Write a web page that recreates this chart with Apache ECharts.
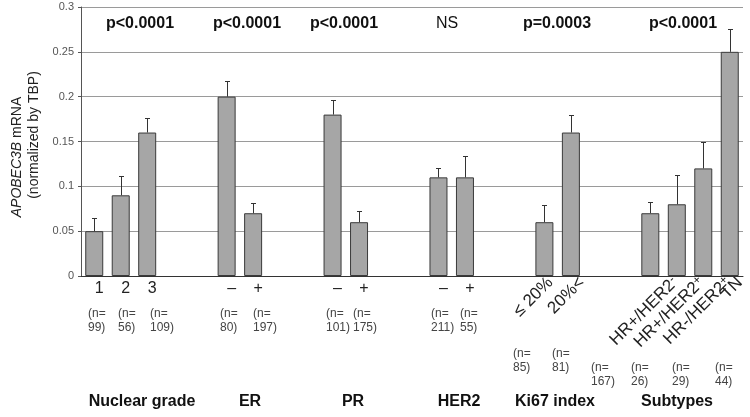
<!DOCTYPE html>
<html><head><meta charset="utf-8">
<script src="https://cdn.jsdelivr.net/npm/echarts@6/dist/echarts.min.js"></script>
<style>html,body{margin:0;padding:0;background:#fff}#c{width:750px;height:417px}</style>
</head><body><div id="c"></div>
<script>
// ---- data ----
const categories = ['1','2','3','','','–','+','','','–','+','','','–','+','','','≤ 20%','20%<','','','HR+/HER2-','HR+/HER2+','HR-/HER2+','TN'];
const meanValues = [0.05,0.09,0.16,null,null,0.20,0.07,null,null,0.18,0.06,null,null,0.11,0.11,null,null,0.06,0.16,null,null,0.07,0.08,0.12,0.25];
const errorUpper = [0.065,0.111,0.176,null,null,0.218,0.081,null,null,0.196,0.0725,null,null,0.121,0.134,null,null,0.0795,0.179,null,null,0.082,0.1125,0.149,0.275];
const sampleSizes = ['99','56','109',null,null,'80','197',null,null,'101','175',null,null,'211','55',null,null,'85','81',null,null,'167','26','29','44'];
const rotatedCategoryIdx = [17,18,21,22,23,24];
const groupNames = ['Nuclear grade','ER','PR','HER2','Ki67 index','Subtypes'];
const pValues = ['p<0.0001','p<0.0001','p<0.0001','NS','p=0.0003','p<0.0001'];
const yMin = 0, yMax = 0.3, yStep = 0.05;

// ---- layout ----
const FONT = '"Liberation Sans", Arial, Helvetica, sans-serif';
const chart = echarts.init(document.getElementById('c'), null, {renderer:'canvas'});

const errData = [];
meanValues.forEach((v,i)=>{ if (v!=null) errData.push([i, v, errorUpper[i]]); });

chart.setOption({
  animation:false,
  backgroundColor:'#fff',
  grid:{left:81, right:7, top:7, bottom:141, containLabel:false},
  xAxis:{type:'category', data:categories, boundaryGap:true,
    axisLine:{show:true, lineStyle:{color:'#333', width:1}},
    axisTick:{show:false},
    axisLabel:{interval:0, fontFamily:FONT, fontSize:16, color:'#222', margin:5,
      padding:[0,0,0,10],
      formatter:(v,i)=> rotatedCategoryIdx.indexOf(i)>=0 ? '' : v},
    splitLine:{show:false}},
  yAxis:{type:'value', min:yMin, max:yMax, interval:yStep,
    axisLine:{show:true, lineStyle:{color:'#555'}},
    axisTick:{show:true, length:3, lineStyle:{color:'#555'}},
    axisLabel:{fontFamily:FONT, fontSize:11, color:'#555', margin:7,
      formatter:v=> v===0 ? '0' : String(+v.toFixed(2))},
    splitLine:{show:true, lineStyle:{color:'#9a9a9a', width:1}}},
  series:[
    {type:'bar', data:meanValues, barWidth:18,
      itemStyle:{color:'#a6a6a6', borderColor:'#3a3a3a', borderWidth:1}},
    {type:'custom', data:errData, encode:{x:0, y:[1,2]}, z:5,
      renderItem:(params, api)=>{
        const i=api.value(0), m=api.value(1), t=api.value(2);
        const p0=api.coord([i,m]), p1=api.coord([i,t]);
        const x=Math.round(p0[0])+0.5, yT=Math.round(p1[1])+0.5;
        return {type:'group', children:[
          {type:'line', shape:{x1:x,y1:p0[1],x2:x,y2:yT}, style:{stroke:'#333',lineWidth:1}},
          {type:'line', shape:{x1:x-2.5,y1:yT,x2:x+2.5,y2:yT}, style:{stroke:'#333',lineWidth:1}}
        ]};
      }}
  ]
});

// annotations
const g = [];
// y axis title
g.push({type:'text', x:17, y:157, rotation:Math.PI/2,
  style:{text:'{i|APOBEC3B}{n| mRNA}', align:'center', verticalAlign:'middle',
    rich:{i:{fontFamily:FONT,fontSize:14,fontStyle:'italic',fill:'#222'}, n:{fontFamily:FONT,fontSize:14,fill:'#222'}}}});
g.push({type:'text', x:34, y:135, rotation:Math.PI/2,
  style:{text:'(normalized by TBP)', font:'14px '+FONT, fill:'#222', align:'center', verticalAlign:'middle'}});
// p-values & group names
const pX = [140,247,344,447,557,683];
const gX = [142,250,353,459,555,677];
pValues.forEach((t,k)=>{
  g.push({type:'text', x:pX[k], y:24, style:{text:t, font:(t==='NS'?'':'bold ')+'16px '+FONT, fill:'#111', align:'center', verticalAlign:'middle'}});
});
groupNames.forEach((t,k)=>{
  g.push({type:'text', x:gX[k], y:402, style:{text:t, font:'bold 16px '+FONT, fill:'#111', align:'center', verticalAlign:'middle'}});
});
// rotated category labels (HER2 status sign set as superscript)
const rotOffset = {17:6,18:11,21:25,22:25,23:25,24:10};
rotatedCategoryIdx.forEach(i=>{
  const px = chart.convertToPixel({xAxisIndex:0}, i);
  const name = categories[i];
  let txt;
  if (/^HR/.test(name)) {
    txt = '{a|' + name.slice(0,-1) + '}{s|' + name.slice(-1) + '}';
  } else {
    txt = '{a|' + name + '}';
  }
  g.push({type:'text', x:px+rotOffset[i], y:280, rotation:Math.PI/4,
    style:{text:txt, align:'right', verticalAlign:'middle',
      rich:{a:{fontFamily:FONT,fontSize:17,fill:'#222',lineHeight:18},
            s:{fontFamily:FONT,fontSize:12,fill:'#222',verticalAlign:'top',lineHeight:18}}}});
});
// sample-size labels
const nX = {0:88,1:118,2:150,5:220,6:253,9:326,10:353,13:431,14:460,17:513,18:552,21:591,22:631,23:672,24:715};
sampleSizes.forEach((n,i)=>{
  if (n==null) return;
  const y = i>=21 ? 367 : (i>=17 ? 353 : 313);
  g.push({type:'text', x:nX[i], y:y-7, style:{text:'(n=\n'+n+')', font:'12px '+FONT, fill:'#444', align:'left', verticalAlign:'top', lineHeight:14.5}});
});
chart.setOption({graphic:{elements:g}});
</script>
</body></html>
